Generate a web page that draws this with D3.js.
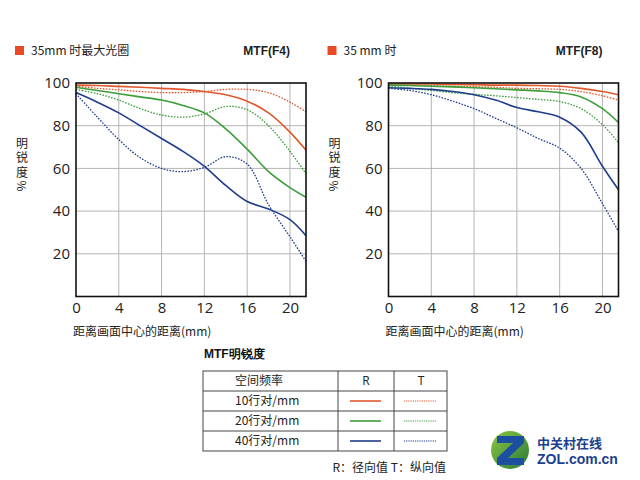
<!DOCTYPE html>
<html>
<head>
<meta charset="utf-8">
<script src="https://cdn.jsdelivr.net/npm/d3@7"></script>
<style>
  body { margin: 0; background: #fff; }
  text { font-family: "Open Sans", "Noto Sans CJK SC", sans-serif; }
  .cjk { font-family: "Noto Sans CJK SC", sans-serif; }
  .bold { font-family: "Liberation Sans", Arial, sans-serif; font-weight: bold; }
</style>
</head>
<body>
<div id="chart"></div>
<script>
// Data
var positions = [0, 2, 4, 6, 8, 10, 12, 14, 16, 18, 20, 21.5];
var yTicks = [20, 40, 60, 80, 100];
var xTicks = [0, 4, 8, 12, 16, 20];

// F4 (max aperture)
var f4_10R = [99, 98.8, 98.4, 98, 97.5, 97, 96, 94.5, 91.5, 86, 77, 68.5];
var f4_10T = [98.5, 97.5, 96.8, 96, 95.5, 95.5, 96, 97, 97, 95.5, 91, 86.5];
var f4_20R = [98, 96.5, 95, 93.5, 92, 89.5, 86, 78.5, 69, 58.5, 51, 46.5];
var f4_20T = [97, 95, 92, 88, 85, 84, 85.5, 89, 87.5, 80, 68, 57.5];
var f4_40R = [95.5, 91, 86, 80, 74, 68, 61, 52, 44.5, 41, 36, 28.5];
var f4_40T = [95, 84, 73.5, 65, 60, 58.5, 60.5, 65.5, 62, 43, 28, 16.5];

// F8
var f8_10R = [99.5, 99.5, 99.5, 99.3, 99.2, 99, 99, 98.8, 98.5, 97.5, 96, 94.5];
var f8_10T = [99, 99, 98.8, 98.5, 98.3, 98, 97.5, 97.3, 97, 96, 94, 92];
var f8_20R = [99, 98.8, 98.5, 98.2, 97.8, 97.3, 96.8, 96.3, 95.5, 93.5, 88, 81.5];
var f8_20T = [98.5, 97.5, 96.5, 95.5, 94.7, 94, 93.2, 92.3, 91.3, 88, 80.5, 72];
var f8_40R = [97.8, 97.5, 97, 96, 94.5, 92, 88.5, 86.5, 84, 77, 61, 50];
var f8_40T = [97.5, 96.5, 94.5, 91.5, 88, 83.5, 79, 74, 69.5, 60, 43.5, 30.5];

var freqLabels = ["10行对/mm", "20行对/mm", "40行对/mm"];
var colors = ["#e0572b", "#3c9e3a", "#1f3d8c"];

var svg = d3.select("#chart").append("svg")
  .attr("width", 640)
  .attr("height", 480);

var charts = [
  { left: 76, title: "35mm 时最大光圈", mtf: "MTF(F4)",
    series: [[f4_10R, f4_10T], [f4_20R, f4_20T], [f4_40R, f4_40T]] },
  { left: 388.5, title: "35 mm 时", mtf: "MTF(F8)",
    series: [[f8_10R, f8_10T], [f8_20R, f8_20T], [f8_40R, f8_40T]] }
];

var plotW = 230;
var plotTop = 83, plotBottom = 296.5;

var yScale = d3.scaleLinear().domain([0, 100]).range([plotBottom, plotTop]);

charts.forEach(function(c) {
  var x = d3.scaleLinear().domain([0, 21.5]).range([c.left, c.left + plotW]);
  var g = svg.append("g");

  // header
  g.append("rect")
    .attr("x", c.left - 61).attr("y", 46)
    .attr("width", 9).attr("height", 9)
    .attr("fill", "#e84a27");
  g.append("text")
    .attr("class", "cjk")
    .attr("x", c.left - 45).attr("y", 55)
    .attr("font-size", "12px")
    .attr("fill", "#222")
    .text(c.title);
  g.append("text")
    .attr("class", "bold")
    .attr("x", c.left + plotW - 16).attr("y", 55)
    .attr("text-anchor", "end")
    .attr("font-size", "12px")
    .attr("fill", "#222")
    .text(c.mtf);

  // grid
  g.selectAll(".vgrid").data(xTicks.slice(1)).enter().append("line")
    .attr("x1", d => x(d)).attr("x2", d => x(d))
    .attr("y1", plotTop).attr("y2", plotBottom)
    .attr("stroke", "#b4b4b4").attr("stroke-width", 1);
  g.selectAll(".hgrid").data(yTicks.slice(0, -1)).enter().append("line")
    .attr("x1", c.left).attr("x2", c.left + plotW)
    .attr("y1", d => yScale(d)).attr("y2", d => yScale(d))
    .attr("stroke", "#b4b4b4").attr("stroke-width", 1);

  // curves
  var line = d3.line()
    .x((d, i) => x(positions[i]))
    .y(d => yScale(d))
    .curve(d3.curveCatmullRom.alpha(0.5));

  c.series.forEach(function(pair, k) {
    g.append("path")
      .attr("d", line(pair[1]))
      .attr("fill", "none")
      .attr("stroke", colors[k])
      .attr("stroke-width", 1.3)
      .attr("stroke-dasharray", "1.6,1.4");
    g.append("path")
      .attr("d", line(pair[0]))
      .attr("fill", "none")
      .attr("stroke", colors[k])
      .attr("stroke-width", 1.6);
  });

  // frame
  g.append("rect")
    .attr("x", c.left).attr("y", plotTop)
    .attr("width", plotW).attr("height", plotBottom - plotTop)
    .attr("fill", "none")
    .attr("stroke", "#111").attr("stroke-width", 1.6);

  // axes
  var yAxis = d3.axisLeft(yScale).tickValues(yTicks).tickSize(0).tickPadding(6);
  var ya = g.append("g").attr("transform", `translate(${c.left},0)`).call(yAxis);
  ya.select(".domain").remove();
  ya.selectAll("text").attr("font-size", "15px").attr("fill", "#222")
    .style("font-family", "'Open Sans', sans-serif");

  var xAxis = d3.axisBottom(x).tickValues(xTicks).tickSize(0).tickPadding(6);
  var xa = g.append("g").attr("transform", `translate(0,${plotBottom})`).call(xAxis);
  xa.select(".domain").remove();
  xa.selectAll("text").attr("font-size", "15px").attr("fill", "#222")
    .style("font-family", "'Open Sans', sans-serif");

  // vertical y label
  g.append("text")
    .attr("class", "cjk")
    .attr("x", c.left - 54).attr("y", 137)
    .attr("font-size", "12px")
    .attr("fill", "#222")
    .style("writing-mode", "vertical-rl")
    .style("letter-spacing", "2.5px")
    .text("明锐度%");

  g.append("text")
    .attr("class", "cjk")
    .attr("x", c.left - 3).attr("y", 336)
    .attr("font-size", "12px")
    .attr("fill", "#222")
    .text("距离画面中心的距离(mm)");
});

// legend table
var tbl = svg.append("g");
tbl.append("text")
  .attr("class", "bold")
  .attr("x", 204).attr("y", 358)
  .attr("font-size", "12px")
  .attr("fill", "#111")
  .text("MTF明锐度");

var tx = 203, tw = 244, ty = 371, rowH = 20;
var colX = [203, 338, 394, 447];
var rows = [ty, ty + rowH, ty + 2 * rowH, ty + 3 * rowH, ty + 4 * rowH];

tbl.append("rect")
  .attr("x", tx).attr("y", ty).attr("width", tw).attr("height", 4 * rowH)
  .attr("fill", "none").attr("stroke", "#444").attr("stroke-width", 1);
rows.slice(1, 4).forEach(function(yy) {
  tbl.append("line").attr("x1", tx).attr("x2", tx + tw)
    .attr("y1", yy).attr("y2", yy).attr("stroke", "#444");
});
[colX[1], colX[2]].forEach(function(xx) {
  tbl.append("line").attr("x1", xx).attr("x2", xx)
    .attr("y1", ty).attr("y2", ty + 4 * rowH).attr("stroke", "#444");
});

tbl.append("text").attr("class", "cjk")
  .attr("x", 235).attr("y", ty + rowH / 2).attr("dy", "0.35em")
  .attr("font-size", "12px").attr("fill", "#222").text("空间频率");
tbl.append("text")
  .attr("x", 366).attr("y", ty + rowH / 2).attr("dy", "0.35em")
  .attr("text-anchor", "middle")
  .attr("font-size", "12px").attr("fill", "#222").text("R");
tbl.append("text")
  .attr("x", 421).attr("y", ty + rowH / 2).attr("dy", "0.35em")
  .attr("text-anchor", "middle")
  .attr("font-size", "12px").attr("fill", "#222").text("T");

freqLabels.forEach(function(lab, i) {
  var cy = ty + rowH * (i + 1) + rowH / 2;
  tbl.append("text").attr("class", "cjk")
    .attr("x", 235).attr("y", cy).attr("dy", "0.35em")
    .attr("font-size", "12px").attr("fill", "#222").text(lab);
  tbl.append("line")
    .attr("x1", 350).attr("x2", 381).attr("y1", cy).attr("y2", cy)
    .attr("stroke", colors[i]).attr("stroke-width", 1.6);
  tbl.append("line")
    .attr("x1", 404).attr("x2", 437).attr("y1", cy).attr("y2", cy)
    .attr("stroke", colors[i]).attr("stroke-width", 1.2)
    .attr("stroke-dasharray", "1.2,1");
});

tbl.append("text").attr("class", "cjk")
  .attr("x", 446).attr("y", 472)
  .attr("text-anchor", "end")
  .attr("font-size", "12px").attr("fill", "#222")
  .text("R：径向值  T：纵向值");

// ZOL watermark
var defs = svg.append("defs");
var grad = defs.append("linearGradient").attr("id", "zolg")
  .attr("x1", "0").attr("y1", "0").attr("x2", "1").attr("y2", "1");
grad.append("stop").attr("offset", "0").attr("stop-color", "#8cc63f");
grad.append("stop").attr("offset", "1").attr("stop-color", "#2a7a3a");

var wm = svg.append("g");
wm.append("circle").attr("cx", 510).attr("cy", 450).attr("r", 19)
  .attr("fill", "url(#zolg)");
wm.append("path")
  .attr("d", "M497,436 L524,436 L524,443 L508,458 L524,458 L524,465 L497,465 L497,458 L513,443 L497,443 Z")
  .attr("fill", "#1d4fa0");
wm.append("text").attr("class", "cjk")
  .attr("x", 537).attr("y", 448)
  .attr("font-size", "13px").attr("font-weight", "bold")
  .attr("fill", "#1d3f8f").text("中关村在线");
wm.append("text").attr("class", "bold")
  .attr("x", 537).attr("y", 464)
  .attr("font-size", "14px")
  .attr("fill", "#1d3f8f").text("ZOL.com.cn");
</script>
</body>
</html>
